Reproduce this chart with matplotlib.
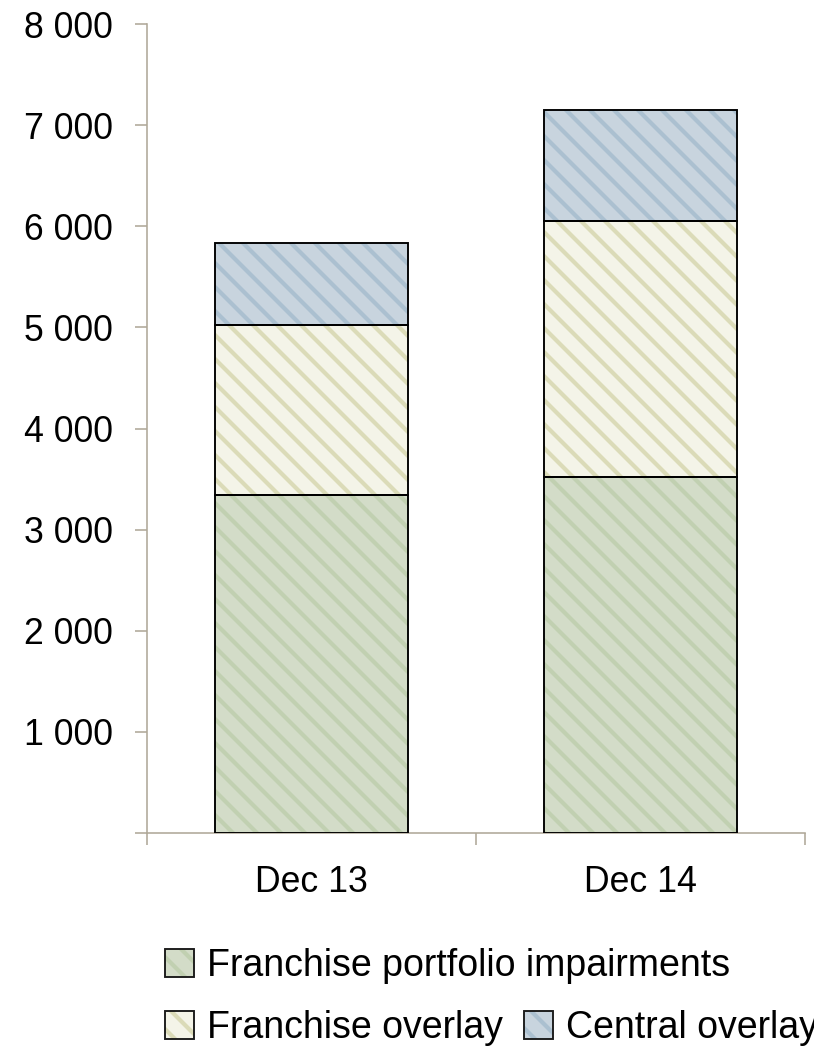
import matplotlib.pyplot as plt
from matplotlib.patches import Patch
from matplotlib.legend_handler import HandlerTuple
from matplotlib.ticker import FuncFormatter

plt.rcParams["font.family"] = ["Liberation Sans", "DejaVu Sans"]
plt.rcParams["hatch.linewidth"] = 4.2

DPI = 72  # 1 pt == 1 px

# impairment provisions, split by component
periods = ["Dec 13", "Dec 14"]
portfolio = [3340, 3520]
franchise_overlay = [1685, 2530]
central_overlay = [810, 1100]

series = [
    ("Franchise portfolio impairments", portfolio, "#d3dcc8", "#c1d0b1"),
    ("Franchise overlay", franchise_overlay, "#f4f4e8", "#dbdbb8"),
    ("Central overlay", central_overlay, "#c8d4de", "#abc0d0"),
]

fig = plt.figure(figsize=(814 / DPI, 1054 / DPI), dpi=DPI)
ax = fig.add_axes([147 / 814, 1 - 833 / 1054, (805 - 147) / 814, (833 - 24) / 1054])

x = list(range(len(periods)))
bottom = [0] * len(periods)
handles = []
for name, vals, face, stripe in series:
    ax.bar(x, vals, 0.585, bottom=bottom, color=face, edgecolor=stripe,
           hatch="\\", linewidth=0, zorder=2)
    ax.bar(x, vals, 0.585, bottom=bottom, fill=False, edgecolor="black",
           linewidth=1.9, zorder=3)
    bottom = [b + v for b, v in zip(bottom, vals)]
    handles.append((Patch(facecolor=face, edgecolor=stripe, hatch="\\", linewidth=0),
                    Patch(fill=False, edgecolor="#1a1a1a", linewidth=1.9)))

ax.set_xlim(-0.5, 1.5)
ax.set_ylim(0, 8000)
ax.set_yticks(range(0, 8001, 1000))
ax.yaxis.set_major_formatter(FuncFormatter(lambda v, p: "" if v == 0 else f"{int(v):,}".replace(",", " ")))

# category boundaries as major ticks, names on minor ticks
ax.set_xticks([-0.5, 0.5, 1.5])
ax.set_xticklabels([])
ax.set_xticks(x, minor=True)
ax.set_xticklabels(periods, minor=True)

axis_col = "#b0a899"
for s in ["top", "right"]:
    ax.spines[s].set_visible(False)
for s in ["left", "bottom"]:
    ax.spines[s].set_color(axis_col)
    ax.spines[s].set_linewidth(1.6)

ax.tick_params(axis="y", direction="out", length=12, width=1.6, color=axis_col,
               pad=22, labelsize=35.6)
ax.tick_params(axis="x", which="major", direction="out", length=12, width=1.6,
               color=axis_col)
ax.tick_params(axis="x", which="minor", length=0, pad=32, labelsize=35.6)

leg_kw = dict(frameon=False, fontsize=37.5, handlelength=0.78, handleheight=0.78,
              handletextpad=0.35, borderpad=0, borderaxespad=0,
              handler_map={tuple: HandlerTuple(ndivide=1)})
fig.legend([handles[0]], [series[0][0]], loc="center left",
           bbox_to_anchor=(165 / 814, 1 - 966 / 1054), **leg_kw)
fig.legend(handles[1:], [series[1][0], series[2][0]], loc="center left", ncol=2,
           columnspacing=0.55, bbox_to_anchor=(165 / 814, 1 - 1028 / 1054), **leg_kw)

fig.savefig("out.png", dpi=DPI)
